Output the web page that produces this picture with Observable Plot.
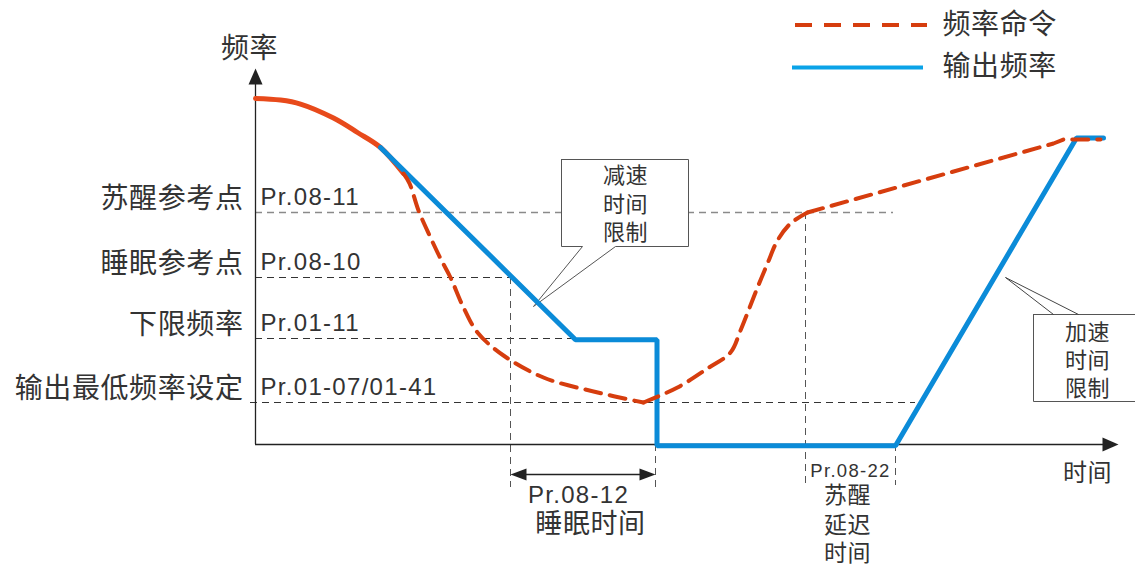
<!DOCTYPE html>
<html>
<head>
<meta charset="utf-8">
<script src="https://cdn.jsdelivr.net/npm/d3@7"></script>
<script src="https://cdn.jsdelivr.net/npm/@observablehq/plot@0.6"></script>
<style>
  html, body { margin: 0; padding: 0; background: #fff; }
  #chart svg { display: block; }
</style>
</head>
<body>
<div id="chart"></div>
<script>
// ---------- data (time t, frequency f in arbitrary schematic units) ----------
const commandSolid = [[0,86.5],[2.5,86.1],[4.5,85.1],[7.8,81.6],[10.2,78],[12.5,74.25],[14.8,67.75]];
const commandFall  = [[14.8,67.75],[15.4,65.3],[16.3,58.5],[17.5,51.75],[18.5,46.5],[19.5,41.75],[20.8,34.25],[22.2,28],[24.8,22.25],[28.8,16.75],[33.8,13.25],[38.8,10.5]];
const commandRise  = [[38.8,10.5],[42.2,14.25],[45.2,19],[47.5,23],[48.5,28.5],[50.2,39.25],[51.2,45.25],[52.2,51],[53.5,55.25],[55.2,58]];
const commandRamp  = [[55.2,58],[79.8,75.25],[80.8,76.25],[84.5,76.25]];
const outputFreq   = [[12.5,74.25],[32,26.2],[40.15,26.2],[40.15,-0.3],[64,-0.3],[82.1,76.6],[84.8,76.6]];

const levelNames = ["苏醒参考点","睡眠参考点","下限频率","输出最低频率设定"];
const levelCodes = ["Pr.08-11","Pr.08-10","Pr.01-11","Pr.01-07/01-41"];
const levelFreq  = [58, 41.75, 26.5, 10.5];
const levelStart = [0, 0, 0, -0.5];
const levelEnd   = [63.8, 25.5, 32, 66];

const markTimes  = [25.5, 40, 55, 64];
const markTop    = [41.75, 0, 58, 0];
const markBottom = [-10.75, -11.5, -11, -10.25];

const sleepSpan = [25.5, 40];
const sleepArrowF = -7.5;

const decelBox = [[30.6,71.25],[43.3,71.25],[43.3,49.5],[36,49.5],[27.8,34.5],[32.7,49.5],[30.6,49.5],[30.6,71.25]];
const decelText = ["减速","时间","限制"];
const decelTextF = [67.25, 60, 53];
const decelTextT = 37;

const accelBox = [[77.8,32.5],[88.5,32.5],[88.5,10.75],[77.8,10.75],[77.8,32.5]];
const accelPointer = [[79.8,32.5],[75,41.75],[82.3,32.5]];
const accelText = ["加速","时间","限制"];
const accelTextF = [28, 21, 14];
const accelTextT = 83.2;

const wakeDelayText = ["苏醒","延迟","时间"];
const wakeDelayF = [-12.75, -20.25, -27.25];

const legendItems = ["频率命令","输出频率"];
const legendF = [104.9, 94.25];

// ---------- helpers ----------
const levels = levelNames.map((name, i) => ({name, code: levelCodes[i], f: levelFreq[i], t1: levelStart[i], t2: levelEnd[i]}));
const markers = markTimes.map((t, i) => ({t, f1: markTop[i], f2: markBottom[i]}));
const head = (dir, L, w) => ({
  draw(ctx) {
    const pts = {
      up:    [[0,0],[-w,L],[w,L]],
      right: [[0,0],[-L,-w],[-L,w]],
      left:  [[0,0],[L,-w],[L,w]]
    }[dir];
    ctx.moveTo(pts[0][0], pts[0][1]);
    ctx.lineTo(pts[1][0], pts[1][1]);
    ctx.lineTo(pts[2][0], pts[2][1]);
    ctx.closePath();
  }
});

const CJK = "'Noto Sans CJK SC', 'Noto Sans', sans-serif";
const LAT = "'Liberation Sans', Arial, sans-serif";
const TXT = "#333";
const RED = "#d63d0e";
const RED2 = "#e84a1b";
const BLUE = "#0b8bd8";

const chart = Plot.plot({
  width: 1135,
  height: 567,
  marginTop: 0, marginRight: 0, marginBottom: 0, marginLeft: 0,
  x: {domain: [-25.5, 88], range: [0, 1135], axis: null},
  y: {domain: [-30.75, 111], range: [567, 0], axis: null},
  style: {background: "#fff", overflow: "visible"},
  marks: [
    // level reference lines
    Plot.ruleY(levels.slice(0,1), {y: "f", x1: "t1", x2: "t2", stroke: "#8a8a8a", strokeWidth: 1.5, strokeDasharray: "7,5"}),
    Plot.ruleY(levels.slice(1), {y: "f", x1: "t1", x2: "t2", stroke: "#333", strokeWidth: 1, strokeDasharray: "7,5"}),
    // vertical time markers
    Plot.ruleX(markers, {x: "t", y1: "f1", y2: "f2", stroke: "#555", strokeWidth: 1, strokeDasharray: "7,5"}),
    // axes
    Plot.ruleX([0], {y1: 0, y2: 92, stroke: "#222", strokeWidth: 1.3}),
    Plot.ruleY([0], {x1: 0, x2: 85.5, stroke: "#222", strokeWidth: 1.3}),
    Plot.dot([[0, 94]], {symbol: head("up", 16, 7), fill: "#222", stroke: null}),
    Plot.dot([[86.3, 0]], {symbol: head("right", 16, 7), fill: "#222", stroke: null}),
    // sleep-time double arrow
    Plot.ruleY([sleepArrowF], {x1: sleepSpan[0] + 1, x2: sleepSpan[1] - 1, stroke: "#222", strokeWidth: 1.3}),
    Plot.dot([[sleepSpan[0], sleepArrowF]], {symbol: head("left", 16, 6), fill: "#222", stroke: null}),
    Plot.dot([[sleepSpan[1], sleepArrowF]], {symbol: head("right", 16, 6), fill: "#222", stroke: null}),
    // callout boxes
    Plot.line(decelBox, {fill: "white", stroke: "#555", strokeWidth: 1, strokeLinejoin: "miter"}),
    Plot.line(accelBox, {fill: "white", stroke: "#555", strokeWidth: 1, strokeLinejoin: "miter"}),
    Plot.line(accelPointer, {stroke: "#444", strokeWidth: 1}),
    // curves
    Plot.line(commandSolid, {stroke: RED2, strokeWidth: 5, curve: "catmull-rom"}),
    Plot.line(outputFreq, {stroke: BLUE, strokeWidth: 5, strokeLinejoin: "miter"}),
    Plot.line(commandFall, {stroke: RED, strokeWidth: 4, strokeDasharray: "16,9", curve: "catmull-rom"}),
    Plot.line(commandRise, {stroke: RED, strokeWidth: 4, strokeDasharray: "16,9", curve: "catmull-rom"}),
    Plot.line(commandRamp, {stroke: RED, strokeWidth: 4, strokeDasharray: "16,9"}),
    // axis titles
    Plot.text(["频率"], {x: -0.6, y: 98.9, text: d => d, fontFamily: CJK, fontSize: 28, fill: TXT}),
    Plot.text(["时间"], {x: 83.2, y: -7.25, text: d => d, fontFamily: CJK, fontSize: 24, fill: TXT}),
    // level labels
    Plot.text(levels, {x: -1.2, y: "f", dy: -13, text: "name", textAnchor: "end", fontFamily: CJK, fontSize: 28, fill: TXT}),
    Plot.text(levels, {x: 0.5, y: "f", dy: -15, text: "code", textAnchor: "start", fontFamily: LAT, fontSize: 24, fill: TXT}),
    // time labels
    Plot.text(["Pr.08-12"], {x: 32.3, y: -12.8, text: d => d, fontFamily: LAT, fontSize: 24, fill: TXT}),
    Plot.text(["睡眠时间"], {x: 33.5, y: -20, text: d => d, fontFamily: CJK, fontSize: 27, fill: TXT}),
    Plot.text(["Pr.08-22"], {x: 59.5, y: -6.75, text: d => d, fontFamily: LAT, fontSize: 18.5, fill: TXT}),
    Plot.text(wakeDelayText, {x: 59.2, y: (d, i) => wakeDelayF[i], text: d => d, fontFamily: CJK, fontSize: 23, fill: TXT}),
    // callout texts
    Plot.text(decelText, {x: decelTextT, y: (d, i) => decelTextF[i], text: d => d, fontFamily: CJK, fontSize: 22, fill: TXT}),
    Plot.text(accelText, {x: accelTextT, y: (d, i) => accelTextF[i], text: d => d, fontFamily: CJK, fontSize: 22, fill: TXT}),
    // legend
    Plot.ruleY([legendF[0]], {x1: 54, x2: 67.2, stroke: RED, strokeWidth: 4, strokeDasharray: "17,12"}),
    Plot.ruleY([legendF[1]], {x1: 53.7, x2: 66.8, stroke: "#0aa3e8", strokeWidth: 4}),
    Plot.text(legendItems, {x: 68.7, y: (d, i) => legendF[i], text: d => d, textAnchor: "start", fontFamily: CJK, fontSize: 28, fill: TXT})
  ]
});
// the reference lettering is slightly spaced out
d3.select(chart).selectAll("g[font-family*='Liberation']").attr("letter-spacing", "1.3px");
d3.select(chart).selectAll("g[font-family*='Noto']").attr("letter-spacing", "0.6px");
document.getElementById("chart").appendChild(chart);
</script>
</body>
</html>
